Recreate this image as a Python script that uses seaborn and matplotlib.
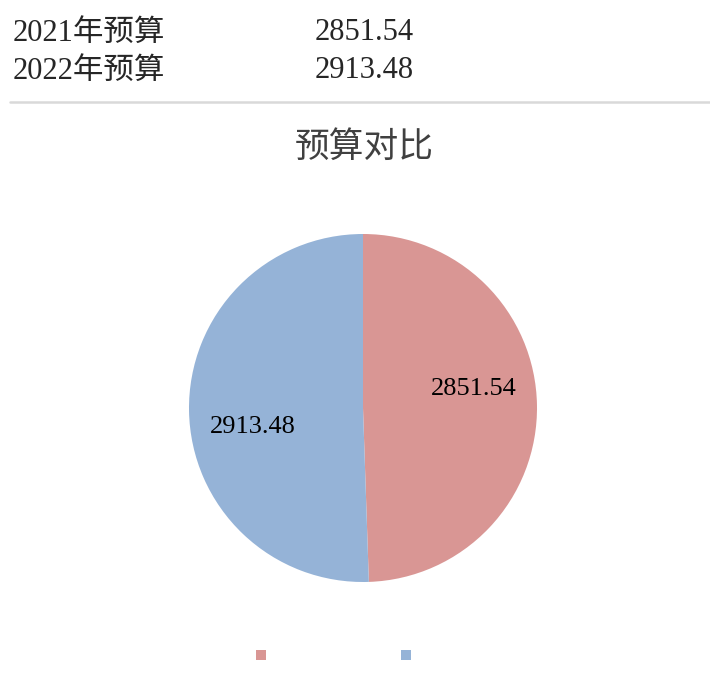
import numpy as np
import seaborn as sns
from matplotlib import pyplot as plt
from matplotlib.lines import Line2D
from matplotlib.patches import Patch

categories = ['2021年预算', '2022年预算']
values = [2851.54, 2913.48]
value_labels = ['2851.54', '2913.48']
colors = ['#D99694', '#95B3D7']

sns.set_theme(style='white')
plt.rcParams['font.family'] = ['Liberation Serif', 'Noto Sans CJK SC', 'DejaVu Sans']

W, H = 710, 688
fig = plt.figure(figsize=(W / 100, H / 100), dpi=100)

# table rows on top
row_y = [33, 71]
for name, lab, y in zip(categories, value_labels, row_y):
    fig.text(13 / W, 1 - y / H, name, fontsize=22, va='center', ha='left')
    fig.text(315 / W, 1 - y / H, lab, fontsize=22, va='center', ha='left')

fig.add_artist(Line2D([10 / W, 1], [1 - 102 / H, 1 - 102 / H],
                      color='#d9d9d9', lw=1.8))

fig.text(364 / W, 1 - 148 / H, '预算对比', fontsize=25, ha='center', va='center',
         color='#404040')

# pie
cx, cy, r = 363, 408, 174
ax = fig.add_axes([(cx - r) / W, (H - cy - r) / H, 2 * r / W, 2 * r / H])
wedges, _ = ax.pie(values, colors=colors, startangle=90, counterclock=False,
                   wedgeprops=dict(linewidth=0))
ax.set_xlim(-1, 1)
ax.set_ylim(-1, 1)
ax.set_aspect('equal')
ax.axis('off')

for w, lab in zip(wedges, value_labels):
    mid = np.deg2rad((w.theta1 + w.theta2) / 2 + 9)
    ax.text(0.645 * np.cos(mid), 0.645 * np.sin(mid), lab, fontsize=19,
            ha='center', va='center', color='black')

handles = [Patch(facecolor=c, edgecolor='none') for c in colors]
fig.legend(handles, [' ', ' '], loc='center', ncol=2,
           bbox_to_anchor=(337.5 / W, 1 - 656 / H), frameon=False,
           fontsize=10, handlelength=0.7, handleheight=0.7,
           handletextpad=0.3, columnspacing=9.2)

fig.savefig('out.png', dpi=100)
